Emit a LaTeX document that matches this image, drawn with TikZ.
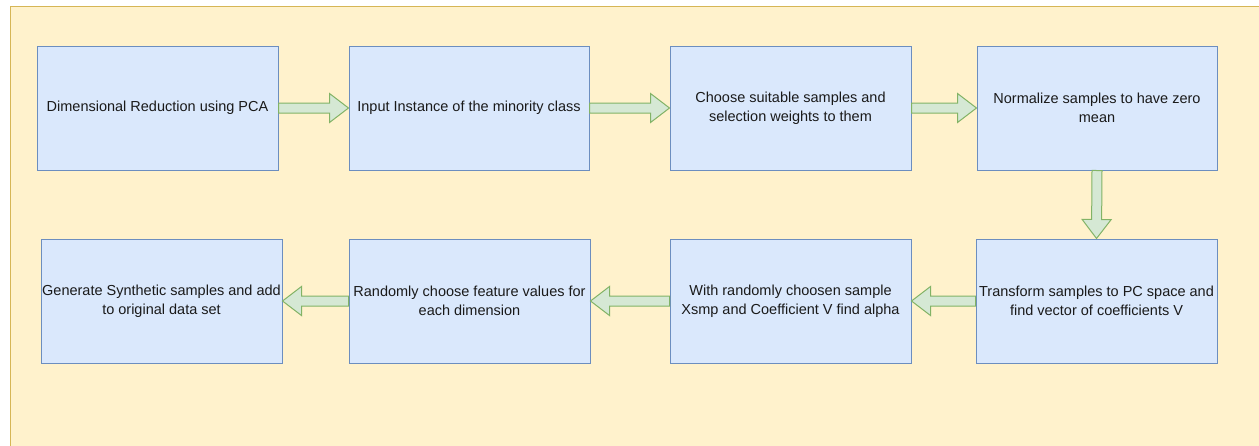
\documentclass[tikz,border=0pt]{standalone}
\usepackage{fontspec}
\setmainfont{Liberation Sans}
\usetikzlibrary{calc}
\definecolor{bgfill}{HTML}{FFF2CC}
\definecolor{bgline}{HTML}{D6B656}
\definecolor{boxfill}{HTML}{DAE8FC}
\definecolor{boxline}{HTML}{6C8EBF}
\definecolor{arrfill}{HTML}{D5E8D4}
\definecolor{arrline}{HTML}{82B366}
\definecolor{txt}{HTML}{1A1A1A}
\tikzset{
  stepbox/.style={draw=boxline, fill=boxfill, line width=1pt, minimum width=240pt, minimum height=124pt,
    inner sep=0pt, align=center, text=txt, font=\fontsize{14.5}{19}\selectfont},
  fatarrow/.style={draw=arrline, fill=arrfill, line width=1pt, line join=miter,
    to path={($(\tikztostart)!5pt!90:(\tikztotarget)$)
      -- ($($(\tikztotarget)!19pt!(\tikztostart)$)!5pt!90:(\tikztotarget)$)
      -- ($($(\tikztotarget)!19pt!(\tikztostart)$)!14.5pt!90:(\tikztotarget)$)
      -- (\tikztotarget)
      -- ($($(\tikztotarget)!19pt!(\tikztostart)$)!14.5pt!-90:(\tikztotarget)$)
      -- ($($(\tikztotarget)!19pt!(\tikztostart)$)!5pt!-90:(\tikztotarget)$)
      -- ($(\tikztostart)!5pt!-90:(\tikztotarget)$) -- cycle}}
}
\begin{document}
\begin{tikzpicture}[x=1pt,y=-1pt]
\useasboundingbox (0,0) rectangle (1259,445);
\fill[white] (0,0) rectangle (1259,445);
\fill[bgfill] (10,6) rectangle (1262,448);
\draw[bgline, line width=1pt] (10,448) -- (10,6) -- (1262,6);
\node[stepbox, minimum width=241pt] (b1) at (157.5,108) {Dimensional Reduction using PCA};
\node[stepbox] (b2) at (469,108) {Input Instance of the minority class};
\node[stepbox, minimum width=241pt] (b3) at (790.5,108) {Choose suitable samples and\\selection weights to them};
\node[stepbox] (b4) at (1097,108) {Normalize samples to have zero\\mean};
\node[stepbox, minimum width=241pt] (b5) at (161.5,301) {Generate Synthetic samples and add\\to original data set};
\node[stepbox, minimum width=241pt] (b6) at (469.5,301) {Randomly choose feature values for\\each dimension};
\node[stepbox, minimum width=241pt] (b7) at (790.5,301) {With randomly choosen sample\\Xsmp and Coefficient V find alpha};
\node[stepbox, minimum width=241pt] (b8) at (1096.5,301) {Transform samples to PC space and\\find vector of coefficients V};
\draw[fatarrow] (b1.east) to (b2.west);
\draw[fatarrow] (b2.east) to (b3.west);
\draw[fatarrow] (b3.east) to (b4.west);
\draw[fatarrow] (b4.south) to (b8.north);
\draw[fatarrow] (b8.west) to (b7.east);
\draw[fatarrow] (b7.west) to (b6.east);
\draw[fatarrow] (b6.west) to (b5.east);
\end{tikzpicture}
\end{document}
